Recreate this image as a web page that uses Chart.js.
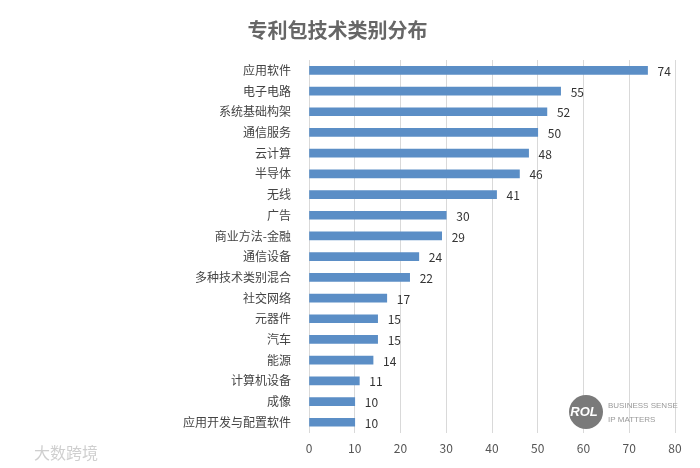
<!DOCTYPE html>
<html>
<head>
<meta charset="utf-8">
<script src="https://cdn.jsdelivr.net/npm/chart.js@4"></script>
<style>
  html, body { margin: 0; padding: 0; background: #fff; }
  #wrap { width: 700px; height: 468px; }
</style>
</head>
<body>
<div id="wrap"><canvas id="myChart" width="700" height="468"></canvas></div>
<script>
// categories, top to bottom
var categories = ['应用软件', '电子电路', '系统基础构架', '通信服务', '云计算', '半导体', '无线', '广告',
  '商业方法-金融', '通信设备', '多种技术类别混合', '社交网络', '元器件', '汽车', '能源', '计算机设备',
  '成像', '应用开发与配置软件'];
var counts = [74, 55, 52, 50, 48, 46, 41, 30, 29, 24, 22, 17, 15, 15, 14, 11, 10, 10];
var xTicks = [0, 10, 20, 30, 40, 50, 60, 70, 80];

var CJK = '"Noto Sans CJK SC", "Noto Sans", sans-serif';

// value labels at the end of each bar
var valueLabels = {
  id: 'valueLabels',
  afterDatasetsDraw: function(chart) {
    var ctx = chart.ctx;
    var meta = chart.getDatasetMeta(0);
    ctx.save();
    ctx.font = '12px ' + CJK;
    ctx.fillStyle = '#333';
    ctx.textAlign = 'left';
    ctx.textBaseline = 'middle';
    meta.data.forEach(function(bar, i) {
      ctx.fillText(counts[i], bar.x + 10, bar.y + 1);
    });
    ctx.restore();
  }
};

// watermarks
var marks = {
  id: 'marks',
  afterDraw: function(chart) {
    var ctx = chart.ctx;
    ctx.save();
    ctx.fillStyle = '#cfcfcf';
    ctx.font = '16px ' + CJK;
    ctx.textBaseline = 'middle';
    ctx.fillText('大数跨境', 34, 453);

    ctx.fillStyle = '#7a7a7a';
    ctx.beginPath();
    ctx.arc(586, 412, 17, 0, Math.PI * 2);
    ctx.fill();
    ctx.fillStyle = '#fff';
    ctx.font = 'italic bold 13px "Liberation Sans", sans-serif';
    ctx.textAlign = 'center';
    ctx.fillText('ROL', 584, 412);
    ctx.fillStyle = '#999';
    ctx.textAlign = 'left';
    ctx.font = '8px "Liberation Sans", sans-serif';
    ctx.fillText('BUSINESS SENSE', 608, 406);
    ctx.fillText('IP MATTERS', 608, 420);
    ctx.restore();
  }
};

var ctx = document.getElementById('myChart').getContext('2d');
var myChart = new Chart(ctx, {
  type: 'bar',
  data: {
    labels: categories,
    datasets: [{
      data: counts,
      backgroundColor: '#5b8ec6',
      borderWidth: 0,
      barThickness: 8
    }]
  },
  options: {
    indexAxis: 'y',
    responsive: false,
    animation: false,
    layout: { padding: { left: 0, right: 25, bottom: 3 } },
    plugins: {
      legend: { display: false },
      tooltip: { enabled: false },
      title: {
        display: true,
        text: '专利包技术类别分布',
        color: '#666',
        font: { family: CJK, size: 20, weight: 'bold' },
        padding: { top: 18, bottom: 18 }
      }
    },
    scales: {
      x: {
        min: 0,
        max: 80,
        afterBuildTicks: function(scale) {
          scale.ticks = xTicks.map(function(v) { return { value: v }; });
        },
        grid: { color: '#d9d9d9', drawTicks: false },
        border: { display: false },
        ticks: { color: '#555', padding: 9, font: { family: CJK, size: 12 } }
      },
      y: {
        afterFit: function(scale) { scale.width = 309; },
        grid: { display: false },
        border: { display: false },
        ticks: { color: '#444', padding: 10, font: { family: CJK, size: 12 } }
      }
    }
  },
  plugins: [valueLabels, marks]
});
</script>
</body>
</html>
